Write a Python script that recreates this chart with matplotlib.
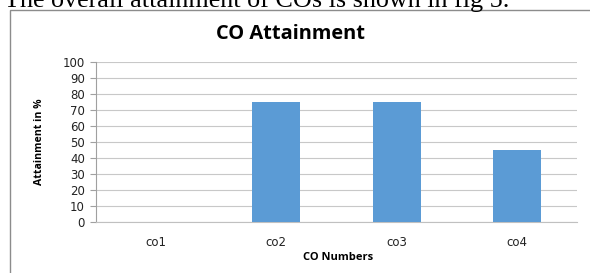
import matplotlib
matplotlib.use("Agg")
import matplotlib.pyplot as plt
from matplotlib.patches import Rectangle

categories = ["co1", "co2", "co3", "co4"]
values = [0, 75, 75, 45]
yticks = [0, 10, 20, 30, 40, 50, 60, 70, 80, 90, 100]

W, H = 590, 273
fig = plt.figure(figsize=(W / 100, H / 100), dpi=100)
fig.patch.set_facecolor("white")

# chart border box
fig.patches.append(Rectangle((10 / W, -0.1), 1.0, (H - 10) / H + 0.1, transform=fig.transFigure,
                             fill=False, edgecolor="#8c8c8c", linewidth=1.0))

# caption text cut at top
fig.text(4 / W, 1 - 7 / H, "The overall attainment of COs is shown in fig 5.",
         family="Liberation Serif", fontsize=18.8, ha="left", va="baseline", color="black")

ax = fig.add_axes([96 / W, 1 - 222 / H, (577 - 96) / W, 160 / H])
x = list(range(len(categories)))
ax.bar(x, values, width=0.4, color="#5B9BD5", zorder=3)
ax.set_xlim(-0.5, len(categories) - 0.5)
ax.set_ylim(0, 100)
ax.set_yticks(yticks)
ax.set_yticklabels([str(t) for t in yticks], family="DejaVu Sans", fontsize=8.5, color="#222222")
ax.set_xticks(x)
ax.set_xticklabels(categories, family="DejaVu Sans", fontsize=8.5, color="#222222")
ax.tick_params(axis="x", length=0, pad=10)
ax.tick_params(axis="y", length=4.5, color="#a0a0a0", pad=3.5)
ax.grid(axis="y", color="#c8c8c8", linewidth=0.8, zorder=0)
for s in ["top", "right"]:
    ax.spines[s].set_visible(False)
ax.spines["left"].set_color("#a0a0a0")
ax.spines["bottom"].set_color("#c0c0c0")

fig.text(290 / W, 1 - 34 / H, "CO Attainment", family="Open Sans", fontweight="bold",
         fontsize=14.4, ha="center", va="center")
fig.text(40 / W, 1 - 142 / H, "Attainment in %", family="Open Sans", fontweight="bold",
         fontsize=7.6, ha="center", va="center", rotation=90)
fig.text(338 / W, 1 - 258 / H, "CO Numbers", family="Open Sans", fontweight="bold",
         fontsize=8, ha="center", va="center")

fig.savefig("out.png", dpi=100)
